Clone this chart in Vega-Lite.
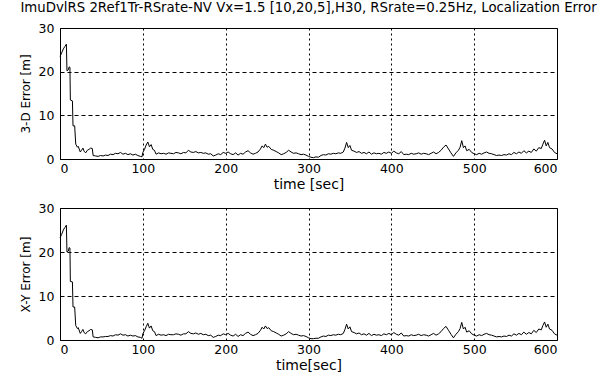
{
  "$schema": "https://vega.github.io/schema/vega-lite/v6.json",
  "autosize": {"type": "pad"},
  "padding": {"left": 18, "top": 1, "right": 5, "bottom": 0},
  "background": "white",
  "title": {
    "text": "ImuDvlRS 2Ref1Tr-RSrate-NV Vx=1.5 [10,20,5],H30, RSrate=0.25Hz, Localization Error",
    "font": "DejaVu Sans", "fontSize": 13.3, "fontWeight": "normal", "color": "black",
    "anchor": "middle", "frame": "group", "offset": 7
  },
  "config": {
    "view": {"stroke": "black", "strokeWidth": 1},
    "axis": {
      "labelFont": "DejaVu Sans", "labelFontSize": 12.5, "labelColor": "black",
      "titleFont": "DejaVu Sans", "titleFontWeight": "normal", "titleColor": "black",
      "domain": false, "ticks": false, "gridColor": "black", "gridOpacity": 1, "gridWidth": 1
    },
    "axisX": {"gridDash": [2, 3], "labelPadding": 3, "titlePadding": 3, "titleFontSize": 14},
    "axisY": {"gridDash": [4, 3], "labelPadding": 6, "titlePadding": 6, "titleFontSize": 12}
  },
  "data": {"values": [
    {"t":0,"d3":23.5,"xy":23.2},{"t":2,"d3":24.3,"xy":24.0},{"t":4,"d3":25.2,"xy":25.0},{"t":6,"d3":25.8,"xy":25.6},{"t":7.7,"d3":26.3,"xy":26.1},
    {"t":8.4,"d3":20.2,"xy":20.0},{"t":10,"d3":20.4,"xy":20.2},{"t":11,"d3":21.1,"xy":21.0},{"t":12,"d3":21.0,"xy":20.9},{"t":12.5,"d3":13.5,"xy":13.3},
    {"t":15,"d3":13.3,"xy":13.2},{"t":15.7,"d3":7.6,"xy":7.5},{"t":17.7,"d3":7.6,"xy":7.5},{"t":19,"d3":3.4,"xy":3.3},{"t":21,"d3":2.7,"xy":2.6},
    {"t":22,"d3":2.9,"xy":2.8},{"t":24.5,"d3":1.6,"xy":1.5},{"t":26,"d3":2.0,"xy":1.9},{"t":27.7,"d3":2.5,"xy":2.4},{"t":29,"d3":1.8,"xy":1.7},
    {"t":31,"d3":1.4,"xy":1.4},{"t":33,"d3":2.0,"xy":1.9},{"t":35,"d3":2.2,"xy":2.1},{"t":37,"d3":2.5,"xy":2.4},{"t":39,"d3":2.4,"xy":2.3},
    {"t":40,"d3":0.8,"xy":0.7},{"t":43,"d3":0.7,"xy":0.6},{"t":46,"d3":0.6,"xy":0.5},{"t":49,"d3":0.8,"xy":0.7},{"t":52,"d3":0.7,"xy":0.7},
    {"t":55,"d3":0.9,"xy":0.8},{"t":58,"d3":0.8,"xy":0.8},{"t":61,"d3":1.1,"xy":1.0},{"t":64,"d3":1.0,"xy":0.9},{"t":67,"d3":1.3,"xy":1.2},
    {"t":70,"d3":1.2,"xy":1.1},{"t":73,"d3":1.5,"xy":1.4},{"t":76,"d3":1.1,"xy":1.1},{"t":79,"d3":1.3,"xy":1.2},{"t":82,"d3":1.0,"xy":0.9},
    {"t":85,"d3":1.2,"xy":1.1},{"t":88,"d3":0.9,"xy":0.9},{"t":91,"d3":1.1,"xy":1.0},{"t":94,"d3":0.8,"xy":0.7},{"t":97,"d3":0.6,"xy":0.6},
    {"t":99,"d3":0.5,"xy":0.4},{"t":100,"d3":1.5,"xy":1.4},{"t":102,"d3":2.2,"xy":2.1},{"t":104,"d3":3.2,"xy":3.0},{"t":106,"d3":3.9,"xy":3.8},
    {"t":108,"d3":2.8,"xy":2.7},{"t":110,"d3":3.3,"xy":3.2},{"t":112,"d3":2.2,"xy":2.1},{"t":114,"d3":2.0,"xy":1.9},{"t":116,"d3":1.1,"xy":1.0},
    {"t":119,"d3":1.4,"xy":1.3},{"t":122,"d3":1.2,"xy":1.1},{"t":125,"d3":1.3,"xy":1.2},{"t":128,"d3":1.1,"xy":1.0},{"t":131,"d3":1.4,"xy":1.3},
    {"t":134,"d3":1.3,"xy":1.2},{"t":137,"d3":1.2,"xy":1.2},{"t":140,"d3":1.5,"xy":1.4},{"t":143,"d3":1.4,"xy":1.3},{"t":146,"d3":1.2,"xy":1.1},
    {"t":149,"d3":1.5,"xy":1.4},{"t":152,"d3":1.4,"xy":1.4},{"t":155,"d3":2.0,"xy":1.9},{"t":158,"d3":1.6,"xy":1.5},{"t":161,"d3":1.5,"xy":1.4},
    {"t":164,"d3":1.7,"xy":1.6},{"t":167,"d3":1.4,"xy":1.3},{"t":170,"d3":1.5,"xy":1.5},{"t":173,"d3":1.3,"xy":1.2},{"t":176,"d3":1.4,"xy":1.3},
    {"t":179,"d3":1.1,"xy":1.0},{"t":182,"d3":1.2,"xy":1.1},{"t":185,"d3":0.7,"xy":0.6},{"t":188,"d3":0.9,"xy":0.8},{"t":191,"d3":1.2,"xy":1.1},
    {"t":194,"d3":1.0,"xy":1.0},{"t":197,"d3":1.5,"xy":1.4},{"t":200,"d3":1.3,"xy":1.2},{"t":203,"d3":1.6,"xy":1.5},{"t":206,"d3":1.2,"xy":1.1},
    {"t":209,"d3":1.0,"xy":0.9},{"t":212,"d3":1.4,"xy":1.3},{"t":215,"d3":0.9,"xy":0.8},{"t":218,"d3":1.3,"xy":1.2},{"t":221,"d3":1.1,"xy":1.0},
    {"t":224,"d3":1.6,"xy":1.5},{"t":227,"d3":1.9,"xy":1.8},{"t":230,"d3":1.4,"xy":1.3},{"t":233,"d3":1.1,"xy":1.0},{"t":236,"d3":1.3,"xy":1.2},
    {"t":239,"d3":1.6,"xy":1.5},{"t":242,"d3":2.3,"xy":2.2},{"t":244,"d3":3.0,"xy":2.9},{"t":246,"d3":2.6,"xy":2.5},{"t":248,"d3":3.4,"xy":3.2},
    {"t":250,"d3":2.7,"xy":2.6},{"t":252,"d3":2.9,"xy":2.8},{"t":255,"d3":2.2,"xy":2.1},{"t":258,"d3":2.0,"xy":1.9},{"t":261,"d3":1.7,"xy":1.6},
    {"t":264,"d3":1.4,"xy":1.3},{"t":267,"d3":1.0,"xy":0.9},{"t":270,"d3":1.2,"xy":1.1},{"t":273,"d3":1.5,"xy":1.4},{"t":276,"d3":2.0,"xy":1.9},
    {"t":279,"d3":1.6,"xy":1.5},{"t":282,"d3":1.3,"xy":1.2},{"t":285,"d3":1.4,"xy":1.3},{"t":288,"d3":1.2,"xy":1.1},{"t":291,"d3":1.0,"xy":0.9},
    {"t":294,"d3":1.1,"xy":1.0},{"t":297,"d3":0.9,"xy":0.8},{"t":300,"d3":0.6,"xy":0.5},{"t":303,"d3":0.4,"xy":0.3},{"t":306,"d3":0.3,"xy":0.3},
    {"t":309,"d3":0.5,"xy":0.4},{"t":312,"d3":0.4,"xy":0.4},{"t":315,"d3":0.8,"xy":0.7},{"t":318,"d3":1.0,"xy":0.9},{"t":321,"d3":0.9,"xy":0.8},
    {"t":324,"d3":1.2,"xy":1.1},{"t":327,"d3":1.1,"xy":1.0},{"t":330,"d3":1.3,"xy":1.2},{"t":333,"d3":1.2,"xy":1.1},{"t":336,"d3":1.4,"xy":1.3},
    {"t":339,"d3":1.3,"xy":1.2},{"t":342,"d3":1.6,"xy":1.5},{"t":344,"d3":2.5,"xy":2.4},{"t":346,"d3":3.8,"xy":3.6},{"t":348,"d3":2.6,"xy":2.5},
    {"t":350,"d3":3.1,"xy":3.0},{"t":352,"d3":2.0,"xy":1.9},{"t":355,"d3":1.8,"xy":1.7},{"t":358,"d3":1.5,"xy":1.4},{"t":361,"d3":1.7,"xy":1.6},
    {"t":364,"d3":1.3,"xy":1.2},{"t":367,"d3":1.5,"xy":1.4},{"t":370,"d3":1.2,"xy":1.1},{"t":373,"d3":1.6,"xy":1.5},{"t":376,"d3":1.1,"xy":1.0},
    {"t":379,"d3":1.4,"xy":1.3},{"t":382,"d3":1.2,"xy":1.1},{"t":385,"d3":1.3,"xy":1.2},{"t":388,"d3":1.1,"xy":1.0},{"t":391,"d3":1.5,"xy":1.4},
    {"t":394,"d3":1.3,"xy":1.2},{"t":397,"d3":1.6,"xy":1.5},{"t":400,"d3":1.3,"xy":1.2},{"t":403,"d3":1.8,"xy":1.7},{"t":406,"d3":1.4,"xy":1.3},
    {"t":409,"d3":1.2,"xy":1.1},{"t":412,"d3":1.7,"xy":1.6},{"t":415,"d3":1.0,"xy":0.9},{"t":418,"d3":1.1,"xy":1.0},{"t":421,"d3":1.0,"xy":0.9},
    {"t":424,"d3":1.3,"xy":1.2},{"t":427,"d3":1.1,"xy":1.0},{"t":430,"d3":1.2,"xy":1.1},{"t":433,"d3":1.4,"xy":1.3},{"t":436,"d3":1.1,"xy":1.0},
    {"t":439,"d3":1.3,"xy":1.2},{"t":442,"d3":1.2,"xy":1.1},{"t":445,"d3":1.0,"xy":0.9},{"t":448,"d3":1.3,"xy":1.2},{"t":451,"d3":1.6,"xy":1.5},
    {"t":454,"d3":1.2,"xy":1.1},{"t":457,"d3":1.5,"xy":1.4},{"t":460,"d3":2.0,"xy":1.9},{"t":463,"d3":2.7,"xy":2.6},{"t":466,"d3":3.2,"xy":3.1},
    {"t":469,"d3":2.3,"xy":2.2},{"t":472,"d3":1.4,"xy":1.3},{"t":475,"d3":0.6,"xy":0.5},{"t":478,"d3":1.4,"xy":1.3},{"t":481,"d3":2.0,"xy":1.9},
    {"t":483,"d3":2.7,"xy":2.6},{"t":485,"d3":4.2,"xy":4.0},{"t":487,"d3":2.6,"xy":2.5},{"t":489,"d3":3.0,"xy":2.9},{"t":491,"d3":1.9,"xy":1.8},
    {"t":494,"d3":2.2,"xy":2.1},{"t":497,"d3":1.5,"xy":1.4},{"t":500,"d3":1.2,"xy":1.1},{"t":503,"d3":1.0,"xy":0.9},{"t":506,"d3":1.3,"xy":1.2},
    {"t":509,"d3":1.1,"xy":1.0},{"t":512,"d3":1.4,"xy":1.3},{"t":515,"d3":1.6,"xy":1.5},{"t":518,"d3":1.3,"xy":1.2},{"t":521,"d3":1.2,"xy":1.1},
    {"t":524,"d3":1.0,"xy":0.9},{"t":527,"d3":0.8,"xy":0.7},{"t":530,"d3":0.9,"xy":0.8},{"t":533,"d3":0.8,"xy":0.7},{"t":536,"d3":1.0,"xy":0.9},
    {"t":539,"d3":0.9,"xy":0.8},{"t":542,"d3":1.2,"xy":1.1},{"t":545,"d3":1.0,"xy":0.9},{"t":548,"d3":1.5,"xy":1.4},{"t":551,"d3":1.2,"xy":1.1},
    {"t":554,"d3":1.6,"xy":1.5},{"t":557,"d3":1.3,"xy":1.2},{"t":560,"d3":1.9,"xy":1.8},{"t":563,"d3":1.4,"xy":1.3},{"t":566,"d3":1.8,"xy":1.7},
    {"t":569,"d3":1.5,"xy":1.4},{"t":572,"d3":2.3,"xy":2.2},{"t":575,"d3":1.8,"xy":1.7},{"t":578,"d3":2.6,"xy":2.5},{"t":581,"d3":2.4,"xy":2.3},
    {"t":583,"d3":3.4,"xy":3.3},{"t":585,"d3":4.3,"xy":4.1},{"t":587,"d3":3.0,"xy":2.9},{"t":589,"d3":3.8,"xy":3.6},{"t":591,"d3":2.6,"xy":2.5},
    {"t":594,"d3":2.3,"xy":2.2},{"t":597,"d3":1.5,"xy":1.4},{"t":600,"d3":1.2,"xy":1.1}
  ]},
  "spacing": 49,
  "bounds": "flush",
  "vconcat": [
    {
      "width": 497, "height": 131,
      "mark": {"type": "line", "color": "black", "strokeWidth": 1},
      "encoding": {
        "x": {"field": "t", "type": "quantitative", "scale": {"domain": [0, 600], "nice": false},
              "axis": {"title": "time [sec]", "values": [0, 100, 200, 300, 400, 500, 600]}},
        "y": {"field": "d3", "type": "quantitative", "scale": {"domain": [0, 30], "nice": false},
              "axis": {"title": "3-D Error [m]", "values": [0, 10, 20, 30]}}
      }
    },
    {
      "width": 497, "height": 132,
      "mark": {"type": "line", "color": "black", "strokeWidth": 1},
      "encoding": {
        "x": {"field": "t", "type": "quantitative", "scale": {"domain": [0, 600], "nice": false},
              "axis": {"title": "time[sec]", "values": [0, 100, 200, 300, 400, 500, 600]}},
        "y": {"field": "xy", "type": "quantitative", "scale": {"domain": [0, 30], "nice": false},
              "axis": {"title": "X-Y Error [m]", "values": [0, 10, 20, 30]}}
      }
    }
  ]
}
